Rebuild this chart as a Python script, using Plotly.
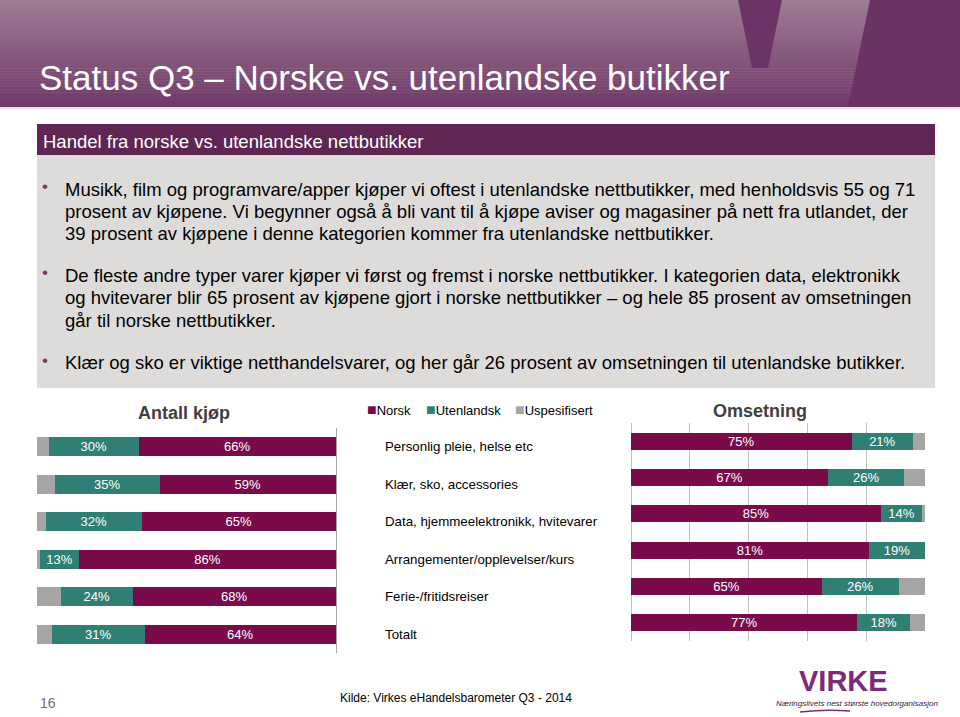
import plotly.graph_objects as go

# --- data -------------------------------------------------------------
categories = [
    "Personlig pleie, helse etc",
    "Klær, sko, accessories",
    "Data, hjemmeelektronikk, hvitevarer",
    "Arrangementer/opplevelser/kurs",
    "Ferie-/fritidsreiser",
    "Totalt",
]
series_names = ["Norsk", "Utenlandsk", "Uspesifisert"]

# Antall kjøp (left chart)
kjop_norsk = [66, 59, 65, 86, 68, 64]
kjop_utenlandsk = [30, 35, 32, 13, 24, 31]
kjop_uspesifisert = [4, 6, 3, 1, 8, 5]

# Omsetning (right chart)
oms_norsk = [75, 67, 85, 81, 65, 77]
oms_utenlandsk = [21, 26, 14, 19, 26, 18]
oms_uspesifisert = [4, 7, 1, 0, 9, 5]

bullets = [
    ["Musikk, film og programvare/apper kjøper vi oftest i utenlandske nettbutikker, med henholdsvis 55 og 71",
     "prosent av kjøpene. Vi begynner også å bli vant til å kjøpe aviser og magasiner på nett fra utlandet, der",
     "39 prosent av kjøpene i denne kategorien kommer fra utenlandske nettbutikker."],
    ["De fleste andre typer varer kjøper vi først og fremst i norske nettbutikker. I kategorien data, elektronikk",
     "og hvitevarer blir 65 prosent av kjøpene gjort i norske nettbutikker – og hele 85 prosent av omsetningen",
     "går til norske nettbutikker."],
    ["Klær og sko er viktige netthandelsvarer, og her går 26 prosent av omsetningen til utenlandske butikker."],
]

colors = ["#7a0b4b", "#2f7f75", "#a5a5a5"]
FONT = "Liberation Sans, Arial, sans-serif"

W, H = 960, 717


def px(x):
    return x / W


def py(y):
    return 1 - y / H


def pct(vals):
    return [f"{v}%" for v in vals]


fig = go.Figure()

left = [kjop_norsk, kjop_utenlandsk, kjop_uspesifisert]
right = [oms_norsk, oms_utenlandsk, oms_uspesifisert]
for i, name in enumerate(series_names):
    show_text = i < 2
    fig.add_trace(go.Bar(
        y=categories, x=left[i], orientation="h", name=name,
        marker=dict(color=colors[i], line=dict(width=0)), width=0.5,
        text=pct(left[i]) if show_text else None,
        textposition="inside", insidetextanchor="middle", textangle=0,
        textfont=dict(color="white", size=13, family=FONT),
        xaxis="x", yaxis="y", showlegend=False, hoverinfo="skip"))
    fig.add_trace(go.Bar(
        y=categories, x=right[i], orientation="h", name=name,
        marker=dict(color=colors[i], line=dict(width=0)), width=0.47,
        text=pct(right[i]) if show_text else None,
        textposition="inside", insidetextanchor="middle", textangle=0,
        textfont=dict(color="white", size=13, family=FONT),
        xaxis="x2", yaxis="y2", showlegend=False, hoverinfo="skip"))

shapes = []
annotations = []

# header gradient
top_rgb = (158, 124, 149)
bot_rgb = (111, 57, 103)
n = 36
for k in range(n):
    t = k / (n - 1)
    c = tuple(round(a + (b - a) * t) for a, b in zip(top_rgb, bot_rgb))
    shapes.append(dict(type="rect", xref="paper", yref="paper", layer="below",
                       x0=0, x1=1, y0=py(k * 107 / n + 107 / n + 0.5), y1=py(k * 107 / n),
                       fillcolor=f"rgb{c}", line=dict(width=0)))
# decorative V and right panel
shapes.append(dict(type="path", xref="paper", yref="paper", layer="below",
                   path=f"M {px(738)} {py(0)} L {px(782)} {py(0)} L {px(768)} {py(68)} L {px(752)} {py(68)} Z",
                   fillcolor="#6c3466", line=dict(width=0)))
shapes.append(dict(type="path", xref="paper", yref="paper", layer="below",
                   path=f"M {px(870)} {py(0)} L {px(960)} {py(0)} L {px(960)} {py(107)} L {px(848)} {py(107)} Z",
                   fillcolor="#6b3264", line=dict(width=0)))
shapes.append(dict(type="rect", xref="paper", yref="paper", layer="below",
                   x0=0, x1=1, y0=py(109), y1=py(107), fillcolor="#eadfe8", line=dict(width=0)))

# text panel
shapes.append(dict(type="rect", xref="paper", yref="paper", layer="below",
                   x0=px(37), x1=px(935), y0=py(155), y1=py(124),
                   fillcolor="#5f2653", line=dict(width=0)))
shapes.append(dict(type="rect", xref="paper", yref="paper", layer="below",
                   x0=px(37), x1=px(935), y0=py(388), y1=py(155),
                   fillcolor="#dedbdb", line=dict(width=0)))

annotations.append(dict(text="Status Q3 – Norske vs. utenlandske butikker", xref="paper", yref="paper",
                        x=px(37), y=py(78), xanchor="left", yanchor="middle", showarrow=False,
                        font=dict(family=FONT, size=35, color="white")))
annotations.append(dict(text="Handel fra norske vs. utenlandske nettbutikker", xref="paper", yref="paper",
                        x=px(41), y=py(141), xanchor="left", yanchor="middle", showarrow=False,
                        font=dict(family=FONT, size=18.5, color="white")))

line_y = [[189, 211, 233], [275, 297, 320], [362]]
for block, ys in zip(bullets, line_y):
    annotations.append(dict(text="•", xref="paper", yref="paper", x=px(45), y=py(ys[0] - 2),
                            xanchor="center", yanchor="middle", showarrow=False,
                            font=dict(family=FONT, size=17, color="#7b3a6e")))
    for line, yy in zip(block, ys):
        annotations.append(dict(text=line, xref="paper", yref="paper", x=px(63), y=py(yy),
                                xanchor="left", yanchor="middle", showarrow=False,
                                font=dict(family=FONT, size=18.5, color="black")))

# chart titles
annotations.append(dict(text="<b>Antall kjøp</b>", xref="paper", yref="paper", x=px(184), y=py(413),
                        xanchor="center", yanchor="middle", showarrow=False,
                        font=dict(family=FONT, size=18, color="#404040")))
annotations.append(dict(text="<b>Omsetning</b>", xref="paper", yref="paper", x=px(760), y=py(411),
                        xanchor="center", yanchor="middle", showarrow=False,
                        font=dict(family=FONT, size=18, color="#404040")))

# legend
leg_x = [365, 424, 513]
for name, col, lx in zip(series_names, colors, leg_x):
    annotations.append(dict(text=f"<span style='color:{col};font-size:16px'>■</span>{name}",
                            xref="paper", yref="paper",
                            x=px(lx), y=py(409), xanchor="left", yanchor="middle", showarrow=False,
                            font=dict(family=FONT, size=13, color="black")))

# category labels
for cat in categories:
    annotations.append(dict(text=cat, xref="paper", yref="y", x=px(383), y=cat,
                            xanchor="left", yanchor="middle", showarrow=False,
                            font=dict(family=FONT, size=13.3, color="black")))

# footer
annotations.append(dict(text="16", xref="paper", yref="paper", x=px(38), y=py(703),
                        xanchor="left", yanchor="middle", showarrow=False,
                        font=dict(family=FONT, size=14, color="#6f6f6f")))
annotations.append(dict(text="Kilde: Virkes eHandelsbarometer Q3 - 2014", xref="paper", yref="paper",
                        x=px(456), y=py(698), xanchor="center", yanchor="middle", showarrow=False,
                        font=dict(family=FONT, size=12, color="black")))
annotations.append(dict(text="<b>VIRKE</b>", xref="paper", yref="paper", x=px(843), y=py(681),
                        xanchor="center", yanchor="middle", showarrow=False,
                        font=dict(family=FONT, size=29, color="#7d2a78")))
annotations.append(dict(text="<i>Næringslivets nest største hovedorganisasjon</i>", xref="paper", yref="paper",
                        x=px(857), y=py(703), xanchor="center", yanchor="middle", showarrow=False,
                        font=dict(family=FONT, size=8, color="#3d1a44")))
shapes.append(dict(type="path", xref="paper", yref="paper",
                   path=f"M {px(800)} {py(712)} Q {px(825)} {py(709)} {px(850)} {py(711)}",
                   line=dict(color="#7d2a78", width=1.5)))

fig.update_layout(
    width=W, height=H,
    margin=dict(l=0, r=0, t=0, b=0),
    paper_bgcolor="white", plot_bgcolor="rgba(0,0,0,0)",
    barmode="stack",
    font=dict(family=FONT),
    shapes=shapes,
    annotations=annotations,
    uniformtext=dict(minsize=13, mode="show"),
    xaxis=dict(domain=[px(37), px(336)], range=[100, 0], showgrid=False, zeroline=False,
               showticklabels=False, showline=False, fixedrange=True),
    yaxis=dict(domain=[py(653), py(428)], anchor="x", side="right", autorange="reversed",
               showticklabels=False, ticks="", showline=True, linecolor="#a6a6a6", linewidth=1,
               showgrid=False, fixedrange=True),
    xaxis2=dict(domain=[px(631), px(925)], range=[0, 100], anchor="y2", dtick=20,
                showgrid=True, gridcolor="#c0c0c0", gridwidth=1, zeroline=True, zerolinecolor="#c0c0c0",
                zerolinewidth=1, showticklabels=False, showline=False, fixedrange=True),
    yaxis2=dict(domain=[py(641), py(423)], anchor="x2", autorange="reversed",
                showticklabels=False, ticks="", showline=False, showgrid=False, fixedrange=True),
)

# drop the page's default body margin so the slide sits at the window's corner
fig.write_html("out.html", config={"displayModeBar": False},
               post_script="document.body.style.margin='0';document.body.style.overflow='hidden';")
